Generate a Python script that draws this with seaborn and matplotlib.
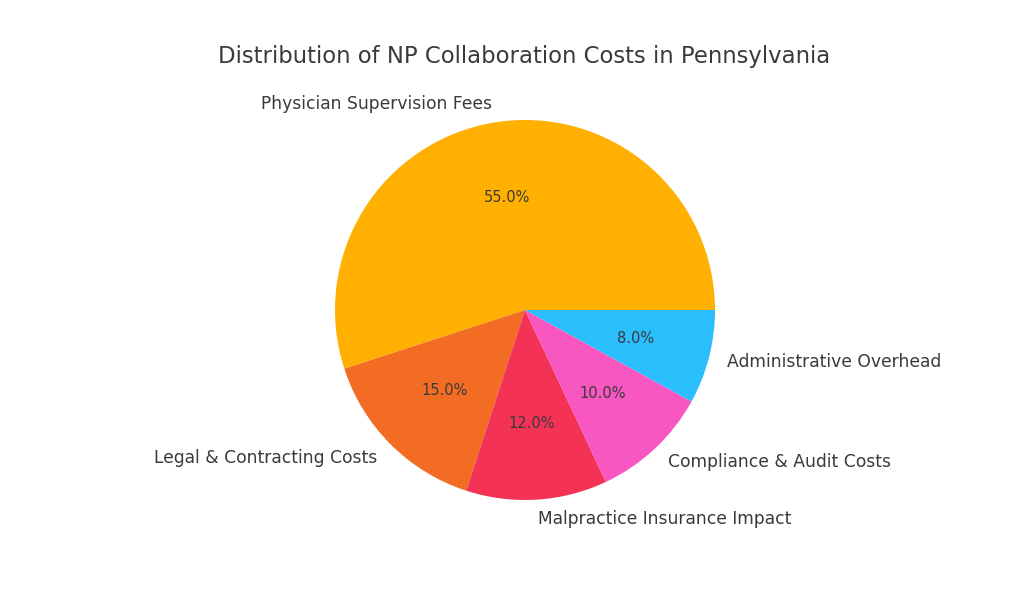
import matplotlib
matplotlib.use("Agg")
import matplotlib.pyplot as plt
import seaborn as sns

categories = [
    "Physician Supervision Fees",
    "Legal & Contracting Costs",
    "Malpractice Insurance Impact",
    "Compliance & Audit Costs",
    "Administrative Overhead",
]
shares = [55, 15, 12, 10, 8]
colors = ["#FFB000", "#F26C23", "#F43256", "#F857C1", "#2ABEFD"]

sns.set_theme(style="white")
plt.rcParams["font.family"] = ["DejaVu Sans"]
text_color = "#3a3a3a"

fig = plt.figure(figsize=(10.24, 6.14), dpi=100)
r = 190
cx, cy = 525, 614 - 310
side = 2.5 * r
ax = fig.add_axes([(cx - side / 2) / 1024, (cy - side / 2) / 614, side / 1024, side / 614])

wedges, texts, autotexts = ax.pie(
    shares,
    labels=categories,
    colors=colors,
    autopct="%1.1f%%",
    startangle=0,
    wedgeprops={"linewidth": 0, "edgecolor": "none"},
    textprops={"color": text_color, "fontsize": 12.3},
)
for t in autotexts:
    t.set_fontsize(10.5)
    t.set_color(text_color)
ax.set_aspect("equal")

fig.text(524.5 / 1024, 1 - 57 / 614, "Distribution of NP Collaboration Costs in Pennsylvania",
         ha="center", va="center", fontsize=16.4, color=text_color)

fig.savefig("out.png", dpi=100, facecolor="white")
